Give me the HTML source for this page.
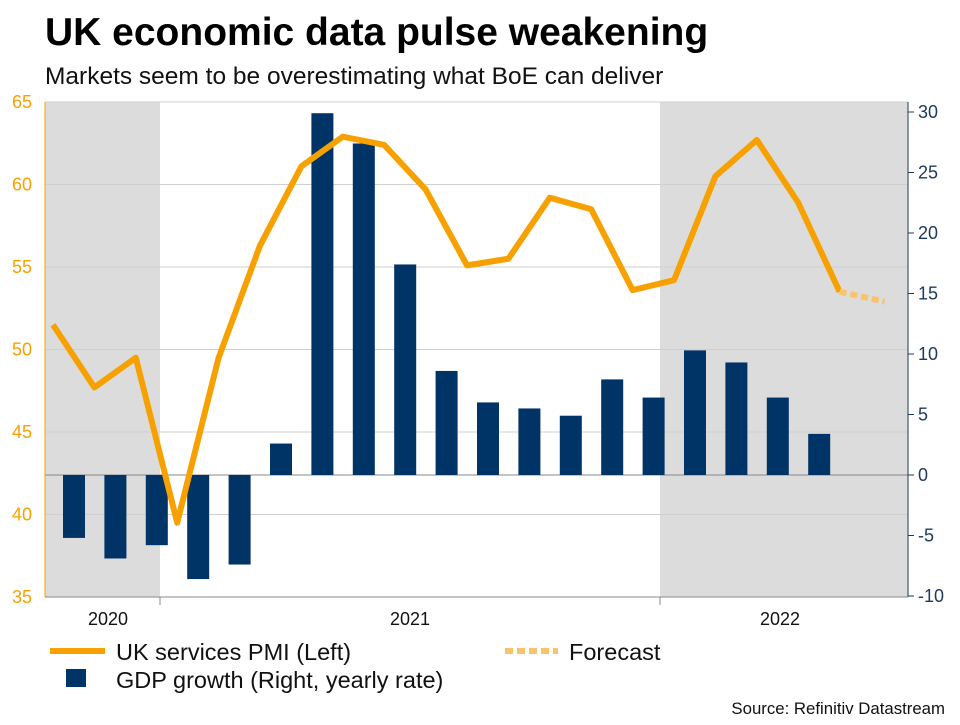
<!DOCTYPE html>
<html><head><meta charset="utf-8"><style>
body{margin:0;background:#fff;font-family:"Liberation Sans",Arial,sans-serif;}
svg text{font-family:"Liberation Sans",Arial,sans-serif;}
</style></head><body>
<svg id="c" width="960" height="720" xmlns="http://www.w3.org/2000/svg">
<text x="45" y="45" font-size="39" font-weight="bold" fill="#000">UK economic data pulse weakening</text>
<text x="45" y="84" font-size="24.5" fill="#111">Markets seem to be overestimating what BoE can deliver</text>
<g id="plot"></g>
<g>
<line x1="50" y1="651" x2="105" y2="651" stroke="#f7a100" stroke-width="6"/>
<text x="116" y="660" font-size="23.5" fill="#111">UK services PMI (Left)</text>
<line x1="505" y1="651" x2="558" y2="651" stroke="#f9c36a" stroke-width="6" stroke-dasharray="8,4"/>
<text x="569" y="660" font-size="23.5" fill="#111">Forecast</text>
<rect x="66" y="669" width="20" height="18" fill="#003366"/>
<text x="116" y="688" font-size="23.5" fill="#111">GDP growth (Right, yearly rate)</text>
</g>
<text x="945" y="714" font-size="16.8" fill="#111" text-anchor="end">Source: Refinitiv Datastream</text>
</svg>
<script>
const pmi=[51.5,47.7,49.5,39.5,49.5,56.3,61.1,62.9,62.4,59.7,55.1,55.5,59.2,58.5,53.6,54.2,60.5,62.7,58.9,53.5];
const forecast=[53.5,52.9];
const gdp=[-5.2,-6.9,-5.8,-8.6,-7.4,2.6,29.9,27.4,17.4,8.6,6.0,5.5,4.9,7.9,6.4,10.3,9.3,6.4,3.4];
const leftTicks=[35,40,45,50,55,60,65];
const rightTicks=[-10,-5,0,5,10,15,20,25,30];
const years=["2020","2021","2022"];
const NS="http://www.w3.org/2000/svg";
const g=document.getElementById('plot');
const X0=45,X1=908;
const yL=v=>597-(v-35)*16.5;
const yR=v=>475-v*12.1;
const xLine=i=>53+i*41.4;
const xBar=i=>74+i*41.4;
function mk(t,a){const e=document.createElementNS(NS,t);for(const k in a)e.setAttribute(k,a[k]);g.appendChild(e);return e;}
let e;
e=mk('rect',{x:X0,y:102,width:160-X0,height:495,fill:'#dcdcdc'});


e=mk('rect',{x:660,y:102,width:X1-660,height:495,fill:'#dcdcdc'});


leftTicks.forEach(v=>{
 e=mk('line',{x1:X0,x2:X1,y1:yL(v),y2:yL(v),stroke:'#cfcfcf','stroke-width':1});
 
 
 e=mk('text',{x:X0-13,y:yL(v)+6,'font-size':18,fill:'#f7a100','text-anchor':'end'});e.textContent=v;
 
 
});
rightTicks.forEach(v=>{
 e=mk('line',{x1:X1,x2:X1+6,y1:yR(v),y2:yR(v),stroke:'#1f3a60'});
 
 
 e=mk('text',{x:X1+10,y:yR(v)+6,'font-size':18,fill:'#1f3a60'});e.textContent=v;
 
 
});
e=mk('line',{x1:X0,x2:X1,y1:yR(0),y2:yR(0),stroke:'#888'});


e=mk('line',{x1:X0,x2:X0,y1:102,y2:597,stroke:'#f7a100'});


e=mk('line',{x1:X1,x2:X1,y1:102,y2:597,stroke:'#1f3a60'});


e=mk('line',{x1:X0,x2:X1,y1:597,y2:597,stroke:'#888'});


[160,660].forEach(x=>{e=mk('line',{x1:x,x2:x,y1:597,y2:605,stroke:'#888'});
 
 });
const yx=[108,410,780];
years.forEach((y,i)=>{e=mk('text',{x:yx[i],y:625,'font-size':18,fill:'#111','text-anchor':'middle'});e.textContent=y;
 
 });
gdp.forEach((v,i)=>{
 const y0=yR(0),y1=yR(v);
 e=mk('rect',{x:xBar(i)-11,y:Math.min(y0,y1),width:22,height:Math.abs(y1-y0),fill:'#003366'});
 
 
});
e=mk('polyline',{points:pmi.map((v,i)=>xLine(i)+','+yL(v)).join(' '),fill:'none',stroke:'#f7a100','stroke-width':6,'stroke-linejoin':'round'});


const fs=pmi.length-1;
e=mk('polyline',{points:forecast.map((v,i)=>(xLine(fs)+i*45)+','+yL(v)).join(' '),fill:'none',stroke:'#f9c36a','stroke-width':6,'stroke-dasharray':'7,4'});


</script>
</body></html>
